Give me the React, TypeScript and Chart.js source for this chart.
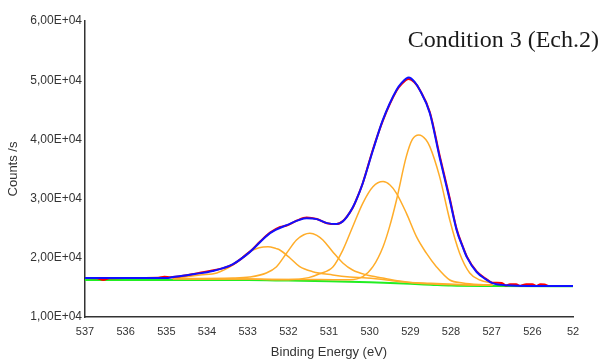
import React, { useEffect, useRef } from "react";
import { Chart, registerables } from "chart.js";

Chart.register(...registerables);

const TITLE = "Condition 3 (Ech.2)";
const X_TITLE = "Binding Energy (eV)";
const Y_TITLE = "Counts /s";

const xTickValues = [537, 536, 535, 534, 533, 532, 531, 530, 529, 528, 527, 526, 525];
const xTickLabels = ["537", "536", "535", "534", "533", "532", "531", "530", "529", "528", "527", "526", "52"];
const yTickValues = [10000, 20000, 30000, 40000, 50000, 60000];
const yTickLabels = ["1,00E+04", "2,00E+04", "3,00E+04", "4,00E+04", "5,00E+04", "6,00E+04"];

// Envelope (fit sum)
const envE = [537.0, 536.0, 535.0, 534.84, 534.3, 533.86, 533.36, 532.95, 532.45, 532.04, 531.55, 531.3, 531.05, 530.81, 530.66, 530.56, 530.42, 530.32, 530.17, 529.92, 529.68, 529.34, 529.22, 529.04, 528.9, 528.77, 528.52, 528.28, 528.03, 527.86, 527.71, 527.61, 527.37, 527.15, 526.98, 526.63, 526.0, 525.0];
const envV = [16590, 16590, 16590, 16760, 17260, 17770, 18940, 20960, 24170, 25520, 26700, 26530, 25860, 25690, 26150, 26900, 28450, 29900, 32600, 38160, 43220, 48360, 49500, 50470, 49770, 48360, 44430, 37000, 29750, 24670, 21800, 20120, 17600, 16400, 15730, 15350, 15250, 15230];

// Raw counts
const rawE = [537.0, 536.7, 536.55, 536.4, 536.0, 535.2, 535.05, 534.9, 534.5, 534.2, 533.9, 533.6, 533.36, 532.95, 532.7, 532.45, 532.2, 532.04, 531.8, 531.55, 531.3, 531.05, 530.81, 530.66, 530.56, 530.42, 530.32, 530.17, 529.92, 529.68, 529.34, 529.22, 529.04, 528.9, 528.77, 528.52, 528.28, 528.03, 527.86, 527.71, 527.61, 527.37, 527.15, 526.98, 526.75, 526.65, 526.55, 526.4, 526.3, 526.15, 526.0, 525.9, 525.8, 525.7, 525.6, 525.0];
const rawV = [16590, 16550, 16250, 16550, 16590, 16620, 16800, 16700, 17050, 17450, 17800, 18250, 18900, 21000, 22700, 24250, 25200, 25450, 26250, 26800, 26550, 25850, 25700, 26200, 26950, 28400, 29950, 32600, 38300, 43100, 48200, 49300, 50200, 49650, 48400, 44600, 37300, 30000, 24800, 21900, 20200, 17700, 16500, 15800, 15750, 15300, 15550, 15550, 15250, 15550, 15550, 15250, 15550, 15500, 15250, 15230];

// Background
const bgE = [537.0, 533.0, 532.0, 531.0, 530.0, 529.0, 528.5, 528.0, 527.0, 525.0];
const bgV = [16240, 16240, 16150, 16050, 15850, 15600, 15450, 15300, 15230, 15200];

// Components
const aE = [534.84, 533.0, 531.5, 530.8, 530.49, 530.17, 529.92, 529.67, 529.51, 529.34, 529.1, 528.95, 528.79, 528.62, 528.52, 528.28, 528.03, 527.79, 527.54, 527.29, 526.98];
const aV = [16450, 16400, 16350, 16300, 16300, 16810, 18500, 21880, 25260, 29770, 37090, 40000, 40760, 40000, 38780, 33710, 26390, 20820, 17440, 16250, 15750];

const bE = [534.84, 533.0, 532.0, 531.5, 531.23, 530.9, 530.66, 530.42, 530.17, 529.92, 529.67, 529.5, 529.34, 529.1, 528.85, 528.61, 528.36, 528.03, 527.71, 527.3, 526.98];
const bV = [16450, 16400, 16300, 16650, 17300, 18500, 21300, 25200, 29200, 32000, 32870, 32300, 30900, 27580, 23570, 20820, 18500, 16250, 15750, 15500, 15450];

const cE = [534.84, 533.36, 532.95, 532.54, 532.29, 532.04, 531.8, 531.62, 531.47, 531.3, 531.15, 530.91, 530.66, 530.42, 530.07, 529.68, 529.26, 528.94, 528.45, 527.8, 526.98];
const cV = [16500, 16590, 16760, 17440, 18500, 20820, 23010, 23900, 24150, 23800, 23010, 21040, 19130, 17940, 17100, 16590, 16080, 15800, 15580, 15450, 15400];

const dE = [534.84, 534.17, 533.76, 533.36, 532.95, 532.72, 532.5, 532.3, 532.21, 531.96, 531.72, 531.4, 530.91, 530.49, 530.07, 529.58, 529.26, 528.5, 527.5, 526.98];
const dV = [16550, 17100, 17440, 18790, 21040, 21700, 21880, 21550, 21320, 19970, 18500, 17660, 17100, 16760, 16590, 16250, 15970, 15700, 15450, 15400];

const toPts = (e: number[], v: number[]) => e.map((x, i) => ({ x, y: v[i] }));

export default function App() {
  const ref = useRef<HTMLCanvasElement>(null);

  useEffect(() => {
    document.body.style.margin = "0";
    const canvas = ref.current;
    if (!canvas) return;

    const titlePlugin = {
      id: "cornerTitle",
      afterDraw(chart: any) {
        const ctx = chart.ctx;
        ctx.save();
        ctx.font = '24px "Liberation Serif"';
        ctx.fillStyle = "#1a1a1a";
        ctx.textAlign = "right";
        ctx.textBaseline = "alphabetic";
        ctx.fillText(TITLE, 599, 47);
        ctx.restore();
      },
    };

    const line = (data: any[], color: string, width: number, order: number) => ({
      data,
      borderColor: color,
      backgroundColor: color,
      borderWidth: width,
      pointRadius: 0,
      fill: false,
      cubicInterpolationMode: "monotone" as const,
      order,
    });

    const orange = "#ffad2a";
    const fam = '"Liberation Sans", Arial, sans-serif';
    const xTickFont = { family: fam, size: 11 };
    const yTickFont = { family: fam, size: 12 };
    const titleFont = { family: fam, size: 13 };

    const chart = new Chart(canvas, {
      type: "line",
      data: {
        datasets: [
          line(toPts(envE, envV), "#1010ff", 2, 0),
          line(toPts(rawE, rawV), "#ff0000", 2, 1),
          line(toPts(aE, aV), orange, 1.5, 2),
          line(toPts(bE, bV), orange, 1.5, 2),
          line(toPts(cE, cV), orange, 1.5, 2),
          line(toPts(dE, dV), orange, 1.5, 2),
          line(toPts(bgE, bgV), "#22ee22", 2, 3),
        ],
      },
      options: {
        responsive: false,
        animation: false,
        events: [],
        layout: { padding: { top: 21, right: 28, bottom: 0, left: 0 } },
        plugins: {
          legend: { display: false },
          tooltip: { enabled: false },
          title: { display: false },
        },
        scales: {
          x: {
            type: "linear",
            reverse: true,
            min: 525,
            max: 537,
            afterFit: (s: any) => {
              s.height = 43;
            },
            grid: { display: false, drawTicks: false },
            border: { display: true, color: "#333", width: 1.5 },
            ticks: {
              stepSize: 1,
              autoSkip: false,
              maxRotation: 0,
              padding: 8,
              color: "#333",
              font: xTickFont,
              callback: (v: any) => {
                const i = xTickValues.indexOf(Number(v));
                return i >= 0 ? xTickLabels[i] : "";
              },
            },
            title: {
              display: true,
              text: X_TITLE,
              color: "#333",
              font: titleFont,
              padding: { top: 0, bottom: 0 },
            },
          },
          y: {
            type: "linear",
            min: 10000,
            max: 60000,
            afterFit: (s: any) => {
              s.width = 85;
            },
            grid: { display: false, drawTicks: false },
            border: { display: true, color: "#333", width: 1.5 },
            ticks: {
              stepSize: 10000,
              padding: 3,
              color: "#333",
              font: yTickFont,
              callback: (v: any) => {
                const i = yTickValues.indexOf(Number(v));
                return i >= 0 ? yTickLabels[i] : "";
              },
            },
            title: {
              display: true,
              text: Y_TITLE,
              color: "#333",
              font: titleFont,
              padding: { top: 6, bottom: 0 },
            },
          },
        },
      },
      plugins: [titlePlugin],
    });

    return () => chart.destroy();
  }, []);

  return (
    <div style={{ width: 601, height: 360 }}>
      <canvas ref={ref} width={601} height={360} style={{ display: "block" }} />
    </div>
  );
}
